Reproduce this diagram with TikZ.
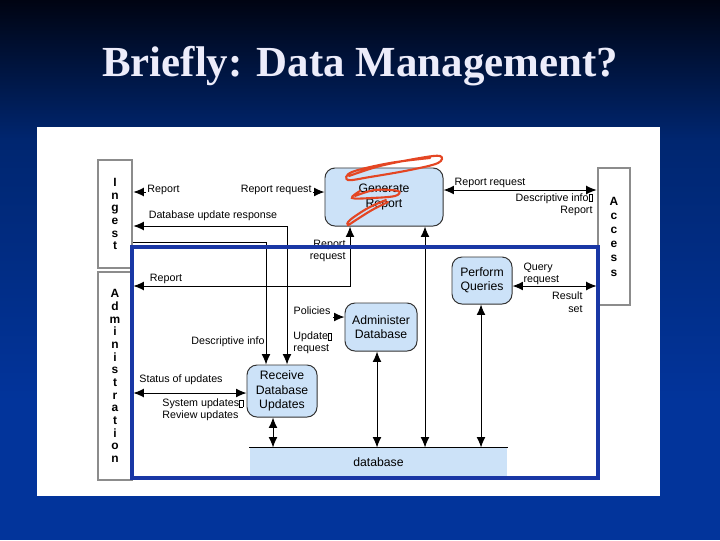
\documentclass[tikz,border=0pt]{standalone}
\usepackage{fontspec}
\setmainfont{Liberation Sans}
\newfontfamily\titlefont{Liberation Serif}
\usetikzlibrary{arrows.meta}
\definecolor{procblue}{RGB}{204,226,248}
\definecolor{frameblue}{RGB}{25,55,165}
\definecolor{titlewhite}{RGB}{236,236,250}
\definecolor{scribred}{RGB}{228,70,35}
\definecolor{slidetop}{RGB}{0,4,18}
\definecolor{slidemid}{RGB}{0,38,112}
\definecolor{slideblue}{RGB}{2,52,155}
\newcommand\sepbox{{\fboxsep=0pt\fboxrule=.3pt\fbox{\rule{0pt}{.62em}\hspace{.28em}}}}

\begin{document}
\begin{tikzpicture}[x=.025cm,y=-.025cm,line width=.7pt,
  proc/.style={draw=black!80,fill=procblue,rounded corners=.25cm,align=center,font=\fontsize{8.7}{10.2}\selectfont,inner sep=1pt},
  side/.style={draw=black!45,line width=2pt,fill=white,align=center,inner sep=0pt,font=\fontsize{8.5}{9}\selectfont\bfseries},
  lbl/.style={font=\fontsize{7.6}{8.8}\selectfont,inner sep=0pt},
  darr/.style={{Latex[length=2.6mm,width=2.2mm]}-{Latex[length=2.6mm,width=2.2mm]}},
  arr/.style={-{Latex[length=2.6mm,width=2.2mm]}},
  scrib/.style={draw=scribred,line width=1.5pt,line cap=round}]
\useasboundingbox (0,0) rectangle (720,540);
% slide
\shade[top color=slidetop,bottom color=slidemid] (0,0) rectangle (720,140);
\shade[top color=slidemid,bottom color=slideblue] (0,140) rectangle (720,400);
\fill[slideblue] (0,400) rectangle (720,540);
\fill[white] (37,127) rectangle (660,496);
\node[font=\titlefont\fontsize{30.5}{36}\selectfont\bfseries,text=titlewhite] (title) at (360,66) {Briefly: Data Management?};
% outside entities
\node[side,minimum width=.85cm,minimum height=2.7cm] (ingest) at (115,214) {I\\n\\g\\e\\s\\t};
\node[side,minimum width=.85cm,minimum height=5.2cm] (adm) at (115,376) {A\\d\\m\\i\\n\\i\\s\\t\\r\\a\\t\\i\\o\\n};
\node[side,minimum width=.8cm,minimum height=3.425cm,font=\fontsize{8.5}{10.1}\selectfont\bfseries] (access) at (614,236.5) {A\\c\\c\\e\\s\\s};
% functions
\node[proc,minimum width=2.95cm,minimum height=1.45cm] (genrep) at (384,197) {Generate\\Report};
\node[proc,minimum width=1.5cm,minimum height=1.175cm] (query) at (482,280.5) {Perform\\Queries};
\node[proc,minimum width=1.8cm,minimum height=1.2cm] (admdb) at (381,327) {Administer\\Database};
\node[proc,minimum width=1.75cm,minimum height=1.3cm] (recv) at (282,391) {Receive\\Database\\Updates};
\node[fill=procblue,minimum width=6.425cm,minimum height=.725cm,font=\fontsize{8.7}{10}\selectfont] (db) at (378.5,462.5) {database};
\draw (db.north west) -- (db.north east);
% flows
\coordinate (rep1) at (230,192);\coordinate (dur) at (287,226);\coordinate (dsc) at (266,242);
\coordinate (rrq) at (350,286);\coordinate (gdb) at (425,0);
\coordinate (acc1) at (520,190);\coordinate (acc2) at (550,286);
\coordinate (pol) at (333,317);\coordinate (sta) at (200,393);
\coordinate (rdb) at (273,0);\coordinate (adb) at (377,0);\coordinate (qdb) at (481,0);
\draw[darr] (rep1 -| ingest.east) -- (rep1 -| genrep.west);
\draw[darr] (dur -| ingest.east) -- (dur) -- (recv.north -| dur);
\draw[arr] (dsc -| ingest.east) -- (dsc) -- (recv.north -| dsc);
\draw[darr] (rrq -| adm.east) -- (rrq) -- (genrep.south -| rrq);
\draw[darr] (genrep.south -| gdb) -- (db.north -| gdb);
\draw[darr] (acc1 -| genrep.east) -- (acc1 -| access.west);
\draw[darr] (acc2 -| query.east) -- (acc2 -| access.west);
\draw[arr] (pol) -- (pol -| admdb.west);
\draw[darr] (sta -| adm.east) -- (sta -| recv.west);
\draw[darr] (recv.south -| rdb) -- (db.north -| rdb);
\draw[darr] (admdb.south -| adb) -- (db.north -| adb);
\draw[darr] (query.south -| qdb) -- (db.north -| qdb);
% labels
\node[lbl,fill=white,inner sep=1pt] (l1) at (229.5,190) {\makebox[4.1cm]{Report\hfill Report request}};
\node[lbl] (l2) at (213,216) {Database update response};
\node[lbl,align=right,anchor=east] (l3) at (346,251) {Report\\request};
\node[lbl] (l4) at (166,279) {Report};
\node[lbl,anchor=east] (l5) at (331,311) {Policies};
\node[lbl] (l6) at (228,342) {Descriptive info};
\node[lbl,align=left,anchor=west] (l7) at (293,343) {Update\sepbox\\request};
\node[lbl] (l8) at (181,380) {Status of updates};
\node[lbl,align=left,anchor=west] (l9) at (162,410) {System updates\sepbox\\Review updates};
\node[lbl] (l10) at (490,183) {Report request};
\node[lbl,align=right,anchor=east] (l11) at (593,204.5) {Descriptive info\sepbox\\Report};
\node[lbl,align=left,anchor=west] (l12) at (523,274) {Query\\request};
\node[lbl,align=right,anchor=east] (l13) at (583,302) {Result\\set};
% archival storage boundary
\draw[frameblue,line width=2.2pt] (132,247) rectangle (598,478);
% crossed out
\draw[scrib] plot[smooth,tension=.6] coordinates {(349,176) (380,166) (420,158) (440,156) (438,163) (410,170) (370,177) (348,180) (352,172) (390,163) (430,158)};
\draw[scrib] plot[smooth,tension=.6] coordinates {(355,196) (375,190) (398,191) (395,196) (372,198) (352,198) (360,191)};
\draw[scrib] plot[smooth,tension=.6] coordinates {(386,200) (368,208) (350,220) (348,225) (356,220) (372,210) (388,202)};
\end{tikzpicture}
\end{document}
